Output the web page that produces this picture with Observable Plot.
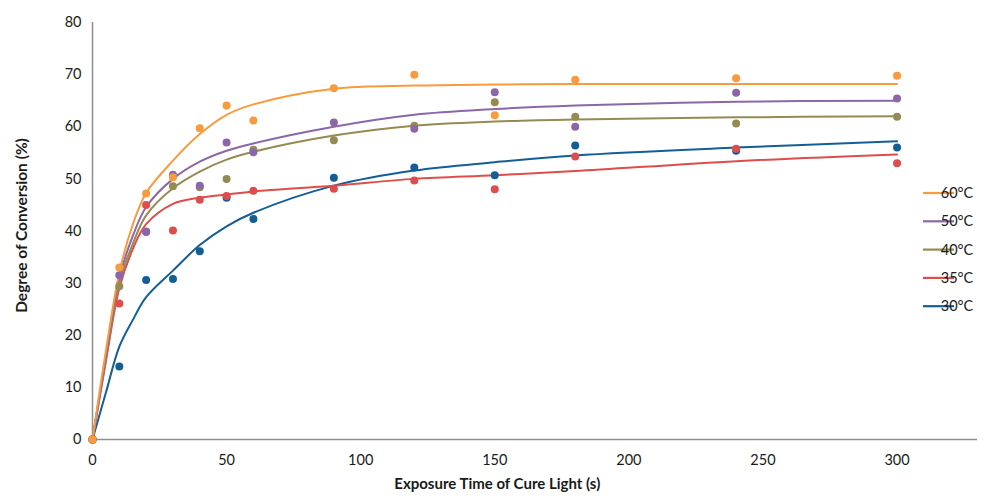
<!DOCTYPE html>
<html><head><meta charset="utf-8">
<script src="https://cdn.jsdelivr.net/npm/d3@7"></script>
<script src="https://cdn.jsdelivr.net/npm/@observablehq/plot@0.6"></script>
<style>body{margin:0;background:#fff}#chart{width:987px;height:499px}</style>
</head><body><div id="chart"></div>
<script>
// Series (legend order)
const series = ["60°C", "50°C", "40°C", "35°C", "30°C"];
const colors = ["#F99A3D", "#8B66A8", "#958B52", "#DE4D4B", "#145E98"];

// Measured points
const times = [0, 10, 20, 30, 40, 50, 60, 90, 120, 150, 180, 240, 300];
const conv60 = [0, 33.0, 47.2, 50.3, 59.7, 64.1, 61.2, 67.4, 70.0, 62.2, 69.0, 69.3, 69.8];
const conv50 = [0, 31.5, 39.8, 50.8, 48.7, 57.0, 55.1, 60.8, 59.6, 66.6, 60.0, 66.5, 65.4];
const conv40 = [0, 29.4, 39.9, 48.6, 48.4, 50.0, 55.6, 57.4, 60.2, 64.7, 61.9, 60.6, 61.9];
const conv35 = [0, 26.1, 45.0, 40.1, 46.0, 46.7, 47.7, 48.1, 49.7, 48.0, 54.3, 55.8, 53.0];
const conv30 = [0, 14.0, 30.6, 30.8, 36.1, 46.4, 42.3, 50.2, 52.2, 50.7, 56.4, 55.4, 56.0];

// Fitted curves
const fitTimes = [0, 5, 10, 15, 20, 30, 40, 50, 60, 90, 120, 150, 180, 240, 300];
const fit60 = [0, 17.0, 32.0, 41.2, 47.3, 53.5, 58.6, 62.3, 64.3, 67.3, 67.9, 68.1, 68.2, 68.2, 68.2];
const fit50 = [0, 16.0, 31.0, 39.0, 44.6, 50.0, 53.3, 55.4, 56.8, 60.0, 62.3, 63.4, 64.1, 64.8, 65.0];
const fit40 = [0, 15.5, 30.0, 37.5, 43.0, 48.2, 51.4, 53.7, 55.2, 58.3, 60.2, 61.0, 61.4, 61.8, 62.0];
const fit35 = [0, 15.0, 29.0, 36.5, 41.3, 45.2, 46.4, 47.0, 47.6, 48.7, 50.0, 50.7, 51.5, 53.4, 54.7];
const fit30 = [0, 9.0, 17.8, 22.9, 27.3, 32.4, 37.3, 40.9, 43.5, 48.7, 51.6, 53.2, 54.5, 56.0, 57.2];

const xTicks = [0, 50, 100, 150, 200, 250, 300];
const yTicks = [0, 10, 20, 30, 40, 50, 60, 70, 80];
const xTitle = "Exposure Time of Cure Light (s)";
const yTitle = "Degree of Conversion (%)";

const pointVals = [conv60, conv50, conv40, conv35, conv30];
const fitVals = [fit60, fit50, fit40, fit35, fit30];
const pts = [];
const fits = [];
series.forEach((s, i) => {
  times.forEach((t, j) => pts.push({series: s, t, v: pointVals[i][j]}));
  fitTimes.forEach((t, j) => fits.push({series: s, t, v: fitVals[i][j]}));
});
const order = s => series.length - series.indexOf(s);
pts.sort((a, b) => order(a.series) - order(b.series));
fits.sort((a, b) => order(a.series) - order(b.series));

const plot = Plot.plot({
  width: 987, height: 499,
  marginLeft: 92, marginRight: 10, marginTop: 22, marginBottom: 60,
  style: {fontFamily: "Lato, 'Open Sans', sans-serif", fontSize: "14px", color: "#1a1a1a", background: "#fff"},
  x: {domain: [0, 330]},
  y: {domain: [0, 80]},
  color: {domain: series, range: colors},
  marks: [
    Plot.axisX({ticks: xTicks, tickSize: 0, tickPadding: 15, label: null, fontSize: 14.5}),
    Plot.axisY({ticks: yTicks, tickSize: 0, tickPadding: 11, label: null, fontSize: 14.5}),
    Plot.ruleX([0], {stroke: "#8f8f8f", strokeWidth: 1.5}),
    Plot.ruleY([0], {stroke: "#8f8f8f", strokeWidth: 1.5}),
    Plot.line(fits, {x: "t", y: "v", z: "series", stroke: "series", strokeWidth: 2, curve: "catmull-rom"}),
    Plot.dot(pts, {x: "t", y: "v", fill: "series", r: 4})
  ]
});
document.getElementById("chart").appendChild(plot);

const svg = d3.select(plot);
const xs = plot.scale("x"), ys = plot.scale("y");
const px = v => xs.apply(v), py = v => ys.apply(v);

// axis titles
svg.append("text")
  .attr("x", (px(0) + px(300)) / 2 + 3).attr("y", 489)
  .attr("text-anchor", "middle")
  .attr("font-weight", "bold").attr("font-size", 15).attr("fill", "#1a1a1a")
  .text(xTitle);
svg.append("text")
  .attr("transform", `translate(27,${(py(0) + py(80)) / 2 - 5}) rotate(-90)`)
  .attr("text-anchor", "middle")
  .attr("font-weight", "bold").attr("font-size", 15.5).attr("fill", "#1a1a1a")
  .text(yTitle);

// legend
const leg = svg.append("g");
series.forEach((s, i) => {
  const yy = 193 + i * 28.3;
  leg.append("line").attr("x1", 923).attr("x2", 954).attr("y1", yy).attr("y2", yy)
    .attr("stroke", colors[i]).attr("stroke-width", 2.2);
  leg.append("text").attr("x", 957).attr("y", yy).attr("dy", "0.35em")
    .attr("font-size", 14.5).attr("fill", "#1a1a1a").text(s);
});
</script>
</body></html>
